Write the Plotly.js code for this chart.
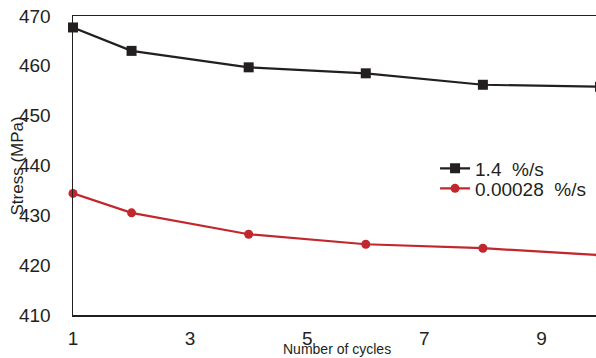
<!DOCTYPE html>
<html><head><meta charset="utf-8">
<script src="https://cdn.plot.ly/plotly-3.0.1.min.js"></script>
<style>html,body{margin:0;padding:0;overflow:hidden;background:#fff;}#c{width:600px;height:358px;}</style>
</head><body><div id="c"></div>
<script>
const cycles = [1, 2, 4, 6, 8, 10];
const stressFast = [467.7, 463.0, 459.7, 458.5, 456.2, 455.8];
const stressSlow = [434.4, 430.5, 426.2, 424.2, 423.4, 422.0];
const seriesNames = ['1.4  %/s', '0.00028  %/s'];
const xTicks = [1, 3, 5, 7, 9];
const yTicks = [410, 420, 430, 440, 450, 460, 470];
const xTitle = 'Number of cycles';
const yTitle = 'Stress (MPa)';

const txt = '#231f20';
const traces = [
  {x: cycles, y: stressFast, name: seriesNames[0], mode: 'lines+markers', cliponaxis: false, legend: 'legend',
   line: {color: '#231f20', width: 2.2}, marker: {symbol: 'square', size: 10, color: '#231f20'}},
  {x: cycles, y: stressSlow, name: seriesNames[1], mode: 'lines+markers', cliponaxis: false, legend: 'legend2',
   line: {color: '#c1272d', width: 2.2}, marker: {symbol: 'circle', size: 9, color: '#c1272d'}}
];
const legStyle = (y) => ({x: 0.687, y: y, xanchor: 'left', yanchor: 'middle', font: {size: 19, color: txt},
  bgcolor: 'rgba(0,0,0,0)', itemwidth: 30, borderwidth: 0});
const layout = {
  width: 600, height: 358,
  margin: {l: 73, r: 0, t: 16, b: 43},
  paper_bgcolor: '#fff', plot_bgcolor: '#fff',
  font: {family: 'Liberation Sans, Arial, sans-serif', color: txt},
  showlegend: true,
  legend: legStyle(0.49),
  legend2: legStyle(0.423),
  xaxis: {range: [1, 10], tickvals: xTicks, ticks: '', showgrid: false, zeroline: false,
          showline: true, linecolor: '#231f20', linewidth: 1.5, mirror: true,
          tickfont: {size: 19, color: txt}, ticklabelstandoff: 6},
  yaxis: {range: [410, 470], tickvals: yTicks, ticks: '', showgrid: false, zeroline: false,
          showline: true, linecolor: '#231f20', linewidth: 1.5,
          tickfont: {size: 19, color: txt}, ticklabelstandoff: 17},
  annotations: [
    {text: yTitle, xref: 'paper', yref: 'paper', x: -0.1044, y: 0.5, xanchor: 'center', yanchor: 'middle',
     textangle: -90, showarrow: false, font: {size: 17, color: txt}},
    {text: xTitle, xref: 'paper', yref: 'paper', x: 0.5, y: -0.1137, xanchor: 'center', yanchor: 'middle',
     showarrow: false, font: {size: 14, color: txt}}
  ]
};
Plotly.newPlot('c', traces, layout, {displayModeBar: false, staticPlot: true});
</script></body></html>
